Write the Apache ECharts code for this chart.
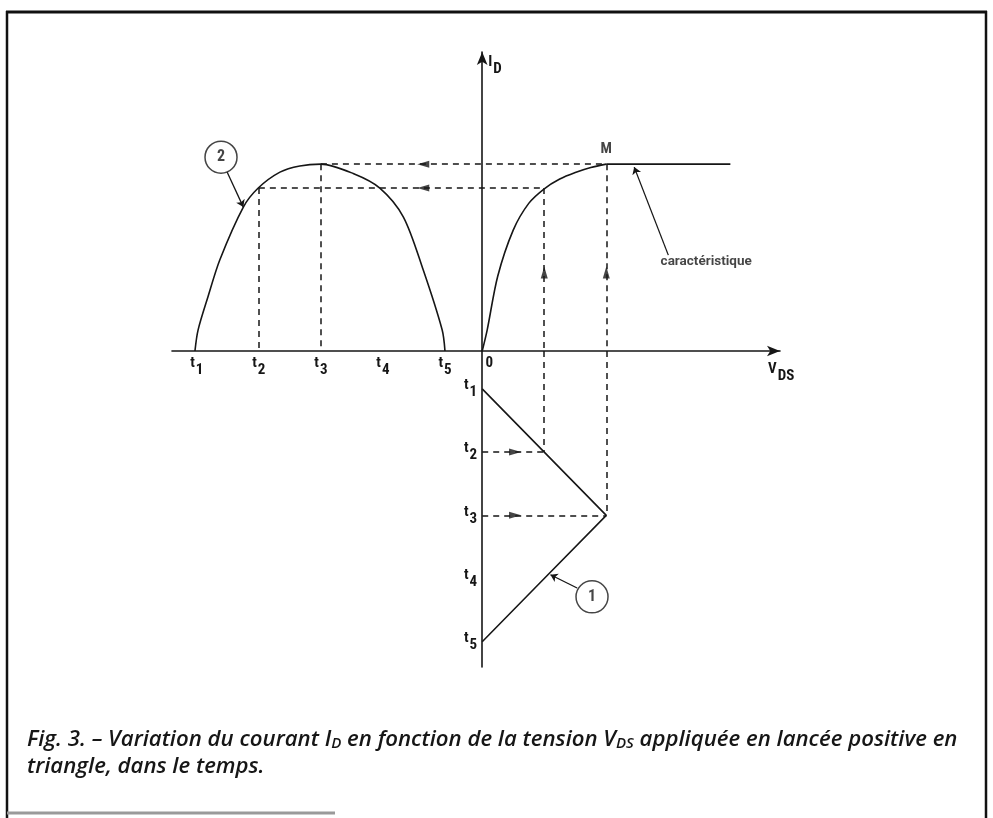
<!DOCTYPE html>
<html>
<head>
<meta charset="utf-8">
<title>Fig. 3</title>
<script src="https://cdn.jsdelivr.net/npm/echarts@6/dist/echarts.min.js"></script>
<style>
  html, body { margin: 0; padding: 0; background: #fff; }
  #chart { width: 993px; height: 818px; }
</style>
</head>
<body>
<div id="chart"></div>
<script>
// VDS unit: value reached at t2 (M sits at 2). ID unit: saturation current at M.
// The left half of the horizontal axis is the time base of curve 2.
var timeLabels = ["1", "2", "3", "4", "5"];
var leftTimePos = [-4.6, -3.6, -2.6, -1.6, -0.6];

// characteristic ID = f(VDS), rising part up to M, then the flat part
var charV = [0, 0.08, 0.25, 0.5, 0.75, 1.0, 1.25, 1.5, 1.75, 2.0];
var charI = [0, 0.112, 0.4, 0.647, 0.79, 0.868, 0.92, 0.955, 0.982, 1.0];
var flatV = [2.0, 4.0];
var flatI = [1.0, 1.0];

// curve 2 : ID versus time
var curve2X = [-4.63, -4.58, -4.42, -4.23, -3.85, -3.61, -3.26, -2.94, -2.6, -2.08, -1.65, -1.27, -0.95, -0.645, -0.6];
var curve2I = [0, 0.112, 0.29, 0.487, 0.77, 0.872, 0.957, 0.99, 1.0, 0.95, 0.872, 0.717, 0.433, 0.112, 0];

// curve 1 : triangle VDS versus time (lower part)
var triTime = [1, 2, 3, 4, 5];
var triV = [0, 1, 2, 1, 0];

// projections at t2 and t3
var guideV = [1, 2];
var guideI = [0.872, 1];
var guideLeftX = [-3.6, -2.6];
var guideT = [2, 3];

var tMin = 0.4, tMax = 5.4;
var vMin = -5, vMax = 4.8;
var iMax = 1.6;

var GRID_LEFT = 172, GRID_W = 608;

var chart = echarts.init(document.getElementById('chart'));
var FONT = '"Roboto Condensed", "Liberation Sans Narrow", Roboto, sans-serif';
var NOTE_FONT = 'Roboto, sans-serif';
var CAPTION_FONT = '"Open Sans", Lato, sans-serif';
var INK = '#161616';

function pairs(xs, ys) {
  return xs.map(function (x, i) { return [x, ys[i]]; });
}
function subLabel(main, sub) {
  return '{t|' + main + '}{s|' + sub + '}';
}
function near(a, b) { return Math.abs(a - b) < 1e-6; }

var subRich = {
  t: { fontFamily: FONT, fontWeight: 'bold', fontSize: 15, color: INK, lineHeight: 16, padding: [0, 0, 7, 0] },
  s: { fontFamily: FONT, fontWeight: 'bold', fontSize: 15, color: INK, lineHeight: 16, padding: [7, 0, 0, 1] },
  z: { fontFamily: FONT, fontWeight: 'bold', fontSize: 15, color: INK, lineHeight: 16, padding: [0, 0, 7, 14] }
};

var topDash = [], lowDash = [];
for (var k = 0; k < guideV.length; k++) {
  topDash.push({ coords: [[guideLeftX[k], guideI[k]], [guideV[k], guideI[k]]] });
  topDash.push({ coords: [[guideLeftX[k], guideI[k]], [guideLeftX[k], 0]] });
  topDash.push({ coords: [[guideV[k], guideI[k]], [guideV[k], 0]] });
  lowDash.push({ coords: [[guideV[k], tMin], [guideV[k], guideT[k]]] });
  lowDash.push({ coords: [[0, guideT[k]], [guideV[k], guideT[k]]] });
}

var lineStyle = { color: INK, width: 1.6 };
var dashStyle = { color: INK, width: 1.5, type: [6, 5], opacity: 1 };
var arrowSize = [7, 12];

chart.setOption({
  animation: false,
  backgroundColor: '#fff',
  title: {
    left: 22,
    top: 721,
    text: '{n|Fig. 3. – Variation du courant I}{sub|D}{n| en fonction de la tension V}{sub|DS}{n| appliquée en lancée positive en}\n{n|triangle, dans le temps.}',
    textStyle: {
      fontWeight: 'normal',
      rich: {
        n: { fontFamily: CAPTION_FONT, fontStyle: 'italic', fontWeight: 600, fontSize: 22.2, color: INK, lineHeight: 27 },
        sub: { fontFamily: CAPTION_FONT, fontStyle: 'italic', fontWeight: 600, fontSize: 15, color: INK, lineHeight: 18, padding: [8, 0, 0, 0] }
      }
    }
  },
  graphic: [
    { type: 'line', shape: { x1: 6, y1: 12, x2: 987, y2: 12 }, style: { stroke: '#111', lineWidth: 3 } },
    { type: 'line', shape: { x1: 7, y1: 11, x2: 7, y2: 818 }, style: { stroke: '#111', lineWidth: 2.5 } },
    { type: 'line', shape: { x1: 986, y1: 11, x2: 986, y2: 818 }, style: { stroke: '#111', lineWidth: 2.5 } },
    { type: 'line', shape: { x1: 7, y1: 813, x2: 335, y2: 813 }, style: { stroke: '#9a9a9a', lineWidth: 3 } }
  ],
  grid: [
    { left: GRID_LEFT, width: GRID_W, top: 52, height: 299 },
    { left: GRID_LEFT, width: GRID_W, top: 351, height: 316 }
  ],
  xAxis: [
    {
      gridIndex: 0, type: 'value', min: vMin, max: vMax,
      axisLine: { show: true, onZero: true, symbol: ['none', 'arrow'], symbolSize: [8, 13], lineStyle: { color: INK, width: 1.6 } },
      axisTick: { show: false },
      splitLine: { show: false },
      axisLabel: {
        margin: 8,
        customValues: leftTimePos.concat([0]),
        formatter: function (v) {
          if (near(v, 0)) return '{z|0}';
          for (var i = 0; i < leftTimePos.length; i++) {
            if (near(v, leftTimePos[i])) return subLabel('t', timeLabels[i]);
          }
          return '';
        },
        rich: subRich
      },
      name: subLabel('V', 'DS'),
      nameLocation: 'end',
      nameGap: -12,
      nameTextStyle: { align: 'left', verticalAlign: 'top', padding: [14, 0, 0, 0], rich: subRich }
    },
    { gridIndex: 1, type: 'value', min: vMin, max: vMax, show: false }
  ],
  yAxis: [
    {
      gridIndex: 0, type: 'value', min: 0, max: iMax,
      axisLine: { show: true, onZero: true, symbol: ['none', 'arrow'], symbolSize: [8, 13], lineStyle: { color: INK, width: 1.6 } },
      axisTick: { show: false },
      splitLine: { show: false },
      axisLabel: { show: false },
      name: subLabel('I', 'D'),
      nameLocation: 'end',
      nameGap: -6,
      nameTextStyle: { align: 'left', verticalAlign: 'top', padding: [0, 0, 0, 6], rich: subRich }
    },
    {
      gridIndex: 1, type: 'value', min: tMin, max: tMax, inverse: true,
      position: 'left',
      // put the time axis on VDS = 0
      offset: -GRID_W * (0 - vMin) / (vMax - vMin),
      axisLine: { show: true, onZero: false, lineStyle: { color: INK, width: 1.6 } },
      axisTick: { show: false },
      splitLine: { show: false },
      axisLabel: {
        margin: 5,
        customValues: triTime,
        formatter: function (v) { return subLabel('t', timeLabels[triTime.indexOf(v)]); },
        rich: subRich
      }
    }
  ],
  series: [
    {
      name: 'caractéristique', type: 'line', xAxisIndex: 0, yAxisIndex: 0,
      data: pairs(charV, charI), smooth: 0.3, showSymbol: false, lineStyle: lineStyle
    },
    {
      name: 'saturation', type: 'line', xAxisIndex: 0, yAxisIndex: 0,
      data: pairs(flatV, flatI), showSymbol: false, lineStyle: lineStyle
    },
    {
      name: 'courbe 2', type: 'line', xAxisIndex: 0, yAxisIndex: 0,
      data: pairs(curve2X, curve2I), smooth: 0.3, showSymbol: false, lineStyle: lineStyle
    },
    {
      name: 'courbe 1', type: 'line', xAxisIndex: 1, yAxisIndex: 1,
      data: pairs(triV, triTime), showSymbol: false, lineStyle: lineStyle
    },
    {
      type: 'lines', coordinateSystem: 'cartesian2d', xAxisIndex: 0, yAxisIndex: 0,
      data: topDash, lineStyle: dashStyle, symbol: 'none', silent: true
    },
    {
      type: 'lines', coordinateSystem: 'cartesian2d', xAxisIndex: 1, yAxisIndex: 1,
      data: lowDash, lineStyle: dashStyle, symbol: 'none', silent: true
    },
    // arrow heads on the projections
    {
      type: 'scatter', xAxisIndex: 0, yAxisIndex: 0, symbol: 'triangle', symbolSize: arrowSize, symbolRotate: 90,
      data: [[-0.95, guideI[0]], [-0.95, guideI[1]]], itemStyle: { color: INK }, silent: true
    },
    {
      type: 'scatter', xAxisIndex: 0, yAxisIndex: 0, symbol: 'triangle', symbolSize: arrowSize, symbolRotate: 0,
      data: [[guideV[0], 0.42], [guideV[1], 0.42]], itemStyle: { color: INK }, silent: true
    },
    {
      type: 'scatter', xAxisIndex: 1, yAxisIndex: 1, symbol: 'triangle', symbolSize: arrowSize, symbolRotate: -90,
      data: [[0.53, guideT[0]], [0.53, guideT[1]]], itemStyle: { color: INK }, silent: true
    },
    // leader arrows
    {
      type: 'lines', coordinateSystem: 'cartesian2d', xAxisIndex: 0, yAxisIndex: 0,
      symbol: ['none', 'arrow'], symbolSize: 7,
      lineStyle: { color: INK, width: 1.3, opacity: 1 },
      data: [
        { coords: [[-4.11, 0.957], [-3.85, 0.77]] },
        { coords: [[3.0, 0.513], [2.45, 0.984]] }
      ]
    },
    {
      type: 'lines', coordinateSystem: 'cartesian2d', xAxisIndex: 1, yAxisIndex: 1,
      symbol: ['none', 'arrow'], symbolSize: 7,
      lineStyle: { color: INK, width: 1.3, opacity: 1 },
      data: [{ coords: [[1.53, 4.15], [1.10, 3.94]] }]
    },
    // circled numbers
    {
      type: 'scatter', xAxisIndex: 0, yAxisIndex: 0, symbol: 'circle', symbolSize: 32,
      itemStyle: { color: '#fff', borderColor: INK, borderWidth: 1.5 },
      label: { show: true, position: 'inside', formatter: '2', fontFamily: FONT, fontWeight: 'bold', fontSize: 16, color: INK },
      data: [[-4.21, 1.037]]
    },
    {
      type: 'scatter', xAxisIndex: 1, yAxisIndex: 1, symbol: 'circle', symbolSize: 32,
      itemStyle: { color: '#fff', borderColor: INK, borderWidth: 1.5 },
      label: { show: true, position: 'inside', formatter: '1', fontFamily: FONT, fontWeight: 'bold', fontSize: 16, color: INK },
      data: [[1.77, 4.29]]
    },
    // text annotations
    {
      type: 'scatter', xAxisIndex: 0, yAxisIndex: 0, symbolSize: 0,
      label: { show: true, position: 'top', distance: 7, formatter: 'M', fontFamily: FONT, fontWeight: 'bold', fontSize: 15, color: INK },
      data: [[2, 1]]
    },
    {
      type: 'scatter', xAxisIndex: 0, yAxisIndex: 0, symbolSize: 0,
      label: { show: true, position: 'inside', formatter: 'caractéristique', fontFamily: NOTE_FONT, fontWeight: 'bold', fontSize: 13.5, color: INK },
      data: [[3.61, 0.476]]
    }
  ]
});
</script>
</body>
</html>
